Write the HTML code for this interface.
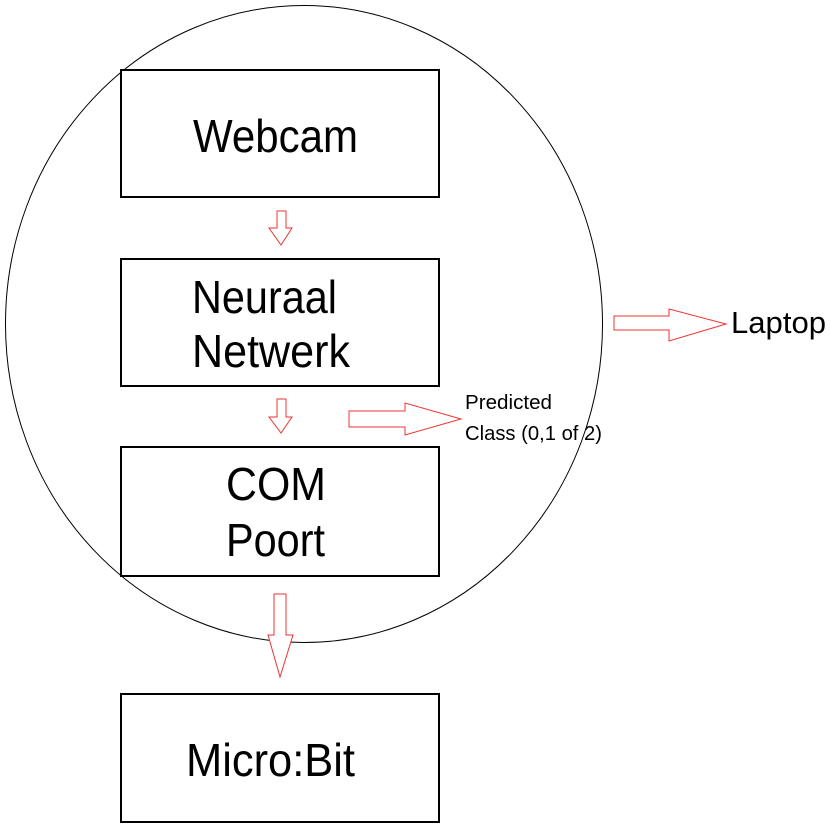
<!DOCTYPE html>
<html><head><style>
html,body{margin:0;padding:0;background:#fff;}
svg{display:block;}
text{font-family:"Liberation Sans",sans-serif;fill:#000;}
</style></head><body>
<svg width="831" height="829" viewBox="0 0 831 829" xmlns="http://www.w3.org/2000/svg">
<ellipse cx="304" cy="324" rx="298.5" ry="318.5" fill="none" stroke="#000" stroke-width="1"/>
<g fill="#fff" stroke="#000" stroke-width="2">
<rect x="121" y="70" width="318" height="127"/>
<rect x="121" y="259" width="318" height="127"/>
<rect x="121" y="447" width="318" height="129"/>
<rect x="121" y="694" width="318" height="128"/>
</g>
<g fill="#fff" stroke="#ee3333" stroke-width="1">
<polygon points="277,211 286,211 286,228 292,228 281,245 269,228 277,228"/>
<polygon points="277,399 286,399 286,417 292,417 281,433 269,417 277,417"/>
<polygon points="349,411 405,411 405,403 461,419 405,435 405,427 349,427"/>
<polygon points="274,594 286,594 286,635 293,635 280,677 268,635 274,635"/>
<polygon points="614,316 669,316 669,309 726,324 669,341 669,330 614,330"/>
</g>
<g font-size="46" lengthAdjust="spacingAndGlyphs">
<text x="193" y="152" textLength="165" lengthAdjust="spacingAndGlyphs">Webcam</text>
<text x="192" y="313" textLength="145" lengthAdjust="spacingAndGlyphs">Neuraal</text>
<text x="192" y="367" textLength="158" lengthAdjust="spacingAndGlyphs">Netwerk</text>
<text x="226" y="500" textLength="100" lengthAdjust="spacingAndGlyphs">COM</text>
<text x="226" y="556" textLength="99" lengthAdjust="spacingAndGlyphs">Poort</text>
<text x="186" y="776" textLength="169" lengthAdjust="spacingAndGlyphs">Micro:Bit</text>
</g>
<text x="731" y="333" font-size="31" textLength="95" lengthAdjust="spacingAndGlyphs">Laptop</text>
<text x="465" y="409" font-size="20" textLength="87" lengthAdjust="spacingAndGlyphs">Predicted</text>
<text x="465" y="440" font-size="20" textLength="137" lengthAdjust="spacingAndGlyphs">Class (0,1 of 2)</text>
</svg>
</body></html>
